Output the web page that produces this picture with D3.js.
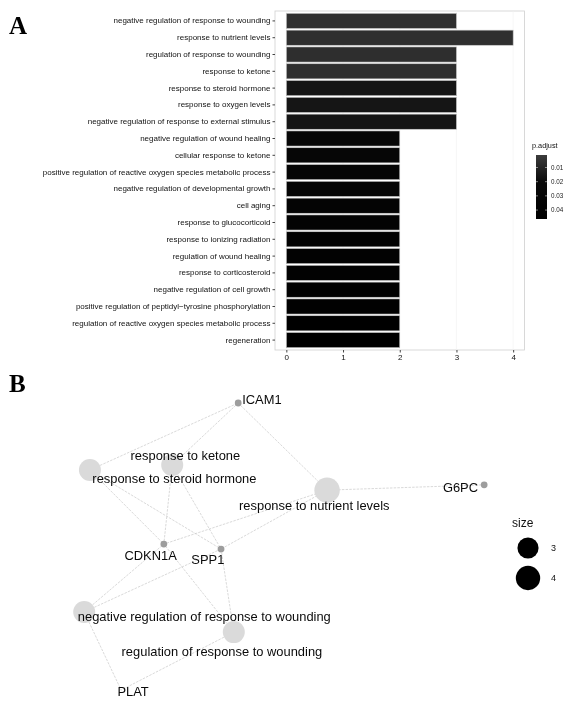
<!DOCTYPE html>
<html>
<head>
<meta charset="utf-8">
<script src="https://cdn.jsdelivr.net/npm/d3@7"></script>
<style>
  html, body { margin: 0; padding: 0; background: #fff; }
  svg { display: block; will-change: transform; }
</style>
</head>
<body>
<svg id="chart" width="565" height="701"></svg>
<script>
// ---------------- Panel A data ----------------
const terms = [
  "negative regulation of response to wounding",
  "response to nutrient levels",
  "regulation of response to wounding",
  "response to ketone",
  "response to steroid hormone",
  "response to oxygen levels",
  "negative regulation of response to external stimulus",
  "negative regulation of wound healing",
  "cellular response to ketone",
  "positive regulation of reactive oxygen species metabolic process",
  "negative regulation of developmental growth",
  "cell aging",
  "response to glucocorticoid",
  "response to ionizing radiation",
  "regulation of wound healing",
  "response to corticosteroid",
  "negative regulation of cell growth",
  "positive regulation of peptidyl\u2212tyrosine phosphorylation",
  "regulation of reactive oxygen species metabolic process",
  "regeneration"
];
const counts = [3, 4, 3, 3, 3, 3, 3, 2, 2, 2, 2, 2, 2, 2, 2, 2, 2, 2, 2, 2];
const pAdjust = [0.0062, 0.0062, 0.0065, 0.0065, 0.0155, 0.016, 0.016, 0.028, 0.030, 0.032,
                 0.034, 0.036, 0.038, 0.040, 0.040, 0.042, 0.042, 0.044, 0.045, 0.046];
const xTicks = [0, 1, 2, 3, 4];
const pTicks = [0.01, 0.02, 0.03, 0.04];
const pRange = [0.0012, 0.0463];

// ---------------- Panel B data ----------------
// layout coordinates of the network (0-100 units)
const categoryNodes = [
  { id: "response to steroid hormone", size: 3, x: 6.8, y: 25.8 },
  { id: "response to ketone", size: 3, x: 25.5, y: 24.2 },
  { id: "response to nutrient levels", size: 4, x: 60.7, y: 32.3 },
  { id: "negative regulation of response to wounding", size: 3, x: 5.5, y: 71.6 },
  { id: "regulation of response to wounding", size: 3, x: 39.5, y: 78.1 }
];
const geneNodes = [
  { id: "ICAM1", x: 40.5, y: 4.2 },
  { id: "G6PC", x: 96.4, y: 30.6 },
  { id: "CDKN1A", x: 23.6, y: 49.7 },
  { id: "SPP1", x: 36.6, y: 51.3 },
  { id: "PLAT", x: 13.9, y: 96.8 }
];
const links = [
  ["response to steroid hormone", "ICAM1"],
  ["response to steroid hormone", "CDKN1A"],
  ["response to steroid hormone", "SPP1"],
  ["response to ketone", "ICAM1"],
  ["response to ketone", "CDKN1A"],
  ["response to ketone", "SPP1"],
  ["response to nutrient levels", "ICAM1"],
  ["response to nutrient levels", "G6PC"],
  ["response to nutrient levels", "CDKN1A"],
  ["response to nutrient levels", "SPP1"],
  ["negative regulation of response to wounding", "CDKN1A"],
  ["negative regulation of response to wounding", "SPP1"],
  ["negative regulation of response to wounding", "PLAT"],
  ["regulation of response to wounding", "CDKN1A"],
  ["regulation of response to wounding", "SPP1"],
  ["regulation of response to wounding", "PLAT"]
];
// label anchor positions (same layout units)
const labelPos = {
  "ICAM1": [41.4, 2.9, "start"],
  "response to ketone": [28.5, 21.0, "middle"],
  "response to steroid hormone": [26.0, 28.7, "middle"],
  "response to nutrient levels": [57.8, 37.1, "middle"],
  "G6PC": [95.0, 31.3, "end"],
  "CDKN1A": [20.6, 53.5, "middle"],
  "SPP1": [33.6, 54.8, "middle"],
  "negative regulation of response to wounding": [32.8, 72.9, "middle"],
  "regulation of response to wounding": [36.8, 84.2, "middle"],
  "PLAT": [16.6, 97.3, "middle"]
};
const sizeLegend = [3, 4];

// ---------------- drawing ----------------
const svg = d3.select("#chart");
const FONT = "'Liberation Sans', Arial, Helvetica, sans-serif";
const SERIF = "'Liberation Serif', 'Times New Roman', serif";

// Panel letters
svg.append("text").attr("x", 9).attr("y", 34).text("A")
  .attr("font-family", SERIF).attr("font-weight", "bold").attr("font-size", 25).attr("fill", "#000");
svg.append("text").attr("x", 9).attr("y", 392).text("B")
  .attr("font-family", SERIF).attr("font-weight", "bold").attr("font-size", 25).attr("fill", "#000");

// ---- Panel A bar chart ----
const pLeft = 275, pRight = 524.5, pTop = 11, pBottom = 350;
const x = d3.scaleLinear().domain([-0.2, 4.2]).range([pLeft, pRight]);
const y = d3.scaleBand().domain(terms).range([pTop, pBottom]).paddingInner(0.1).paddingOuter(0.14);
const color = d3.scaleLinear().domain([pRange[0], 0.02, pRange[1]])
  .range(["#3c3c3c", "#0a0a0a", "#000000"]).clamp(true);

const gA = svg.append("g");
gA.append("rect").attr("x", pLeft).attr("y", pTop).attr("width", pRight - pLeft).attr("height", pBottom - pTop)
  .attr("fill", "#fff").attr("stroke", "#cfcfcf").attr("stroke-width", 0.8);
gA.selectAll("line.grid").data(xTicks).join("line")
  .attr("x1", d => x(d)).attr("x2", d => x(d)).attr("y1", pTop).attr("y2", pBottom)
  .attr("stroke", "#f1f1f1").attr("stroke-width", 0.6);

gA.selectAll("rect.bar").data(terms).join("rect")
  .attr("x", x(0))
  .attr("y", d => y(d))
  .attr("width", (d, i) => x(counts[i]) - x(0))
  .attr("height", y.bandwidth())
  .attr("fill", (d, i) => color(pAdjust[i]))
  .attr("stroke", "#c8c8c8").attr("stroke-width", 0.6);

const yAxis = d3.axisLeft(y).tickSize(2.5).tickPadding(2);
const gy = gA.append("g").attr("transform", `translate(${pLeft},0)`).call(yAxis);
gy.select(".domain").remove();
gy.selectAll("text").attr("font-family", FONT).attr("font-size", 8).attr("fill", "#111");
gy.selectAll("line").attr("stroke", "#444");

const xAxis = d3.axisBottom(x).tickValues(xTicks).tickFormat(d3.format("d")).tickSize(2.5).tickPadding(2);
const gx = gA.append("g").attr("transform", `translate(0,${pBottom})`).call(xAxis);
gx.select(".domain").remove();
gx.selectAll("text").attr("font-family", FONT).attr("font-size", 8).attr("fill", "#111");
gx.selectAll("line").attr("stroke", "#444");

// colourbar legend
const cbX = 536, cbW = 11, cbTop = 155, cbBottom = 219;
const cbScale = d3.scaleLinear().domain(pRange).range([cbTop, cbBottom]);
const defs = svg.append("defs");
const grad = defs.append("linearGradient").attr("id", "pgrad").attr("x1", 0).attr("x2", 0).attr("y1", 0).attr("y2", 1);
d3.range(0, 1.0001, 0.05).forEach(t => {
  const v = pRange[0] + t * (pRange[1] - pRange[0]);
  grad.append("stop").attr("offset", t).attr("stop-color", color(v));
});
svg.append("rect").attr("x", cbX).attr("y", cbTop).attr("width", cbW).attr("height", cbBottom - cbTop)
  .attr("fill", "url(#pgrad)");
svg.append("text").attr("x", 532).attr("y", 148).text("p.adjust")
  .attr("font-family", FONT).attr("font-size", 7.3).attr("fill", "#111");
svg.selectAll("text.ptick").data(pTicks).join("text")
  .attr("class", "ptick")
  .attr("x", cbX + cbW + 4).attr("y", d => cbScale(d)).attr("dy", "0.35em")
  .text(d => d.toFixed(2))
  .attr("font-family", FONT).attr("font-size", 6.3).attr("fill", "#222");
svg.selectAll("line.ptickl").data(pTicks).join("line")
  .attr("x1", cbX).attr("x2", cbX + 2).attr("y1", d => cbScale(d)).attr("y2", d => cbScale(d))
  .attr("stroke", "#fff").attr("stroke-width", 0.5);
svg.selectAll("line.ptickr").data(pTicks).join("line")
  .attr("x1", cbX + cbW - 2).attr("x2", cbX + cbW).attr("y1", d => cbScale(d)).attr("y2", d => cbScale(d))
  .attr("stroke", "#fff").attr("stroke-width", 0.5);

// ---- Panel B network ----
const nx = d3.scaleLinear().domain([0, 100]).range([60, 500]);
const ny = d3.scaleLinear().domain([0, 100]).range([390, 700]);
const rScale = d3.scaleSqrt().domain([0, 4]).range([0, 12.7]);

const nodeById = new Map();
categoryNodes.forEach(n => nodeById.set(n.id, n));
geneNodes.forEach(n => nodeById.set(n.id, n));

const gB = svg.append("g");
gB.selectAll("line.edge").data(links).join("line")
  .attr("x1", d => nx(nodeById.get(d[0]).x)).attr("y1", d => ny(nodeById.get(d[0]).y))
  .attr("x2", d => nx(nodeById.get(d[1]).x)).attr("y2", d => ny(nodeById.get(d[1]).y))
  .attr("stroke", "#c9c9c9").attr("stroke-width", 0.7).attr("stroke-dasharray", "2.5,1.2");

gB.selectAll("circle.cat").data(categoryNodes).join("circle")
  .attr("cx", d => nx(d.x)).attr("cy", d => ny(d.y)).attr("r", d => rScale(d.size))
  .attr("fill", "#dadada");
gB.selectAll("circle.gene").data(geneNodes.filter(d => d.id !== "PLAT")).join("circle")
  .attr("cx", d => nx(d.x)).attr("cy", d => ny(d.y)).attr("r", 3.4)
  .attr("fill", "#9d9d9d");

const allIds = categoryNodes.map(d => d.id).concat(geneNodes.map(d => d.id));
gB.selectAll("text.lab").data(allIds).join("text")
  .attr("x", d => nx(labelPos[d][0])).attr("y", d => ny(labelPos[d][1])).attr("dy", "0.35em")
  .attr("text-anchor", d => labelPos[d][2])
  .text(d => d)
  .attr("font-family", FONT).attr("font-size", 12.9).attr("fill", "#0a0a0a");

// size legend
svg.append("text").attr("x", 512).attr("y", 527).text("size")
  .attr("font-family", FONT).attr("font-size", 12).attr("fill", "#111");
const sy = d3.scalePoint().domain(sizeLegend).range([548, 578]);
svg.selectAll("circle.sl").data(sizeLegend).join("circle")
  .attr("cx", 528).attr("cy", d => sy(d)).attr("r", d => rScale(d) * 0.96).attr("fill", "#000");
svg.selectAll("text.sl").data(sizeLegend).join("text")
  .attr("x", 551).attr("y", d => sy(d)).attr("dy", "0.35em").text(d => d)
  .attr("font-family", FONT).attr("font-size", 9).attr("fill", "#111");
</script>
</body>
</html>
